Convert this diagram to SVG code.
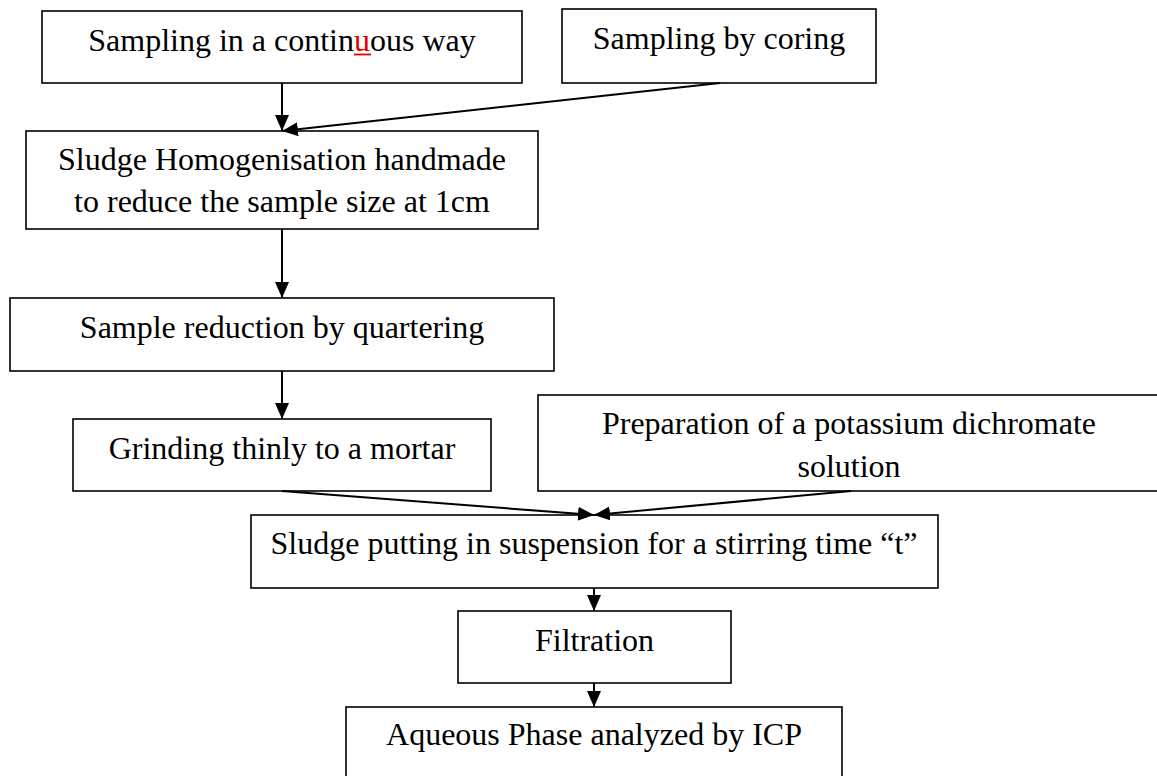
<svg xmlns="http://www.w3.org/2000/svg" width="1157" height="776" viewBox="0 0 1157 776">
<defs>
<marker id="arr" markerUnits="userSpaceOnUse" markerWidth="18" markerHeight="16" refX="16" refY="7" orient="auto">
<path d="M0,0 L16,7 L0,14 Z" fill="#000"/>
</marker>
</defs>
<style>
.box{fill:#fff;stroke:#000;stroke-width:1.6}
.t{font-family:"Liberation Serif","Times New Roman",serif;font-size:32px;fill:#000;text-anchor:middle}
.c{stroke:#000;stroke-width:2;fill:none;marker-end:url(#arr)}
</style>
<rect width="1157" height="776" fill="#fff"/>
<g id="n1">
<rect class="box" x="42" y="11" width="480" height="72"/>
<text class="t" x="282" y="51">Sampling in a contin<tspan fill="#e00000">u</tspan>ous way</text>
<line x1="354" y1="54.5" x2="371" y2="54.5" stroke="#e00000" stroke-width="1.8"/>
</g>
<g id="n2">
<rect class="box" x="562" y="9" width="314" height="74"/>
<text class="t" x="719" y="49">Sampling by coring</text>
</g>
<g id="n3">
<rect class="box" x="26" y="131" width="512" height="98"/>
<text class="t" x="282" y="170">Sludge Homogenisation handmade</text>
<text class="t" x="282" y="212">to reduce the sample size at 1cm</text>
</g>
<g id="n4">
<rect class="box" x="10" y="298" width="544" height="73"/>
<text class="t" x="282" y="338">Sample reduction by quartering</text>
</g>
<g id="n5">
<rect class="box" x="73" y="419" width="418" height="72"/>
<text class="t" x="282" y="459">Grinding thinly to a mortar</text>
</g>
<g id="n6">
<rect class="box" x="538" y="395" width="630" height="96"/>
<text class="t" x="849" y="434">Preparation of a potassium dichromate</text>
<text class="t" x="849" y="477">solution</text>
</g>
<g id="n7">
<rect class="box" x="251" y="515" width="687" height="73"/>
<text class="t" x="594" y="554">Sludge putting in suspension for a stirring time “t”</text>
</g>
<g id="n8">
<rect class="box" x="458" y="611" width="273" height="72"/>
<text class="t" x="594.5" y="651">Filtration</text>
</g>
<g id="n9">
<rect class="box" x="346" y="707" width="496" height="90"/>
<text class="t" x="594" y="745">Aqueous Phase analyzed by ICP</text>
</g>
<g id="connectors">
<line class="c" x1="282" y1="83" x2="282" y2="131"/>
<line class="c" x1="720" y1="83" x2="282" y2="131"/>
<line class="c" x1="282" y1="229" x2="282" y2="298"/>
<line class="c" x1="282" y1="371" x2="282" y2="419"/>
<line class="c" x1="282" y1="491" x2="594" y2="515"/>
<line class="c" x1="851" y1="491" x2="594" y2="515"/>
<line class="c" x1="594" y1="588" x2="594" y2="611"/>
<line class="c" x1="594" y1="683" x2="594" y2="707"/>
</g>
</svg>
